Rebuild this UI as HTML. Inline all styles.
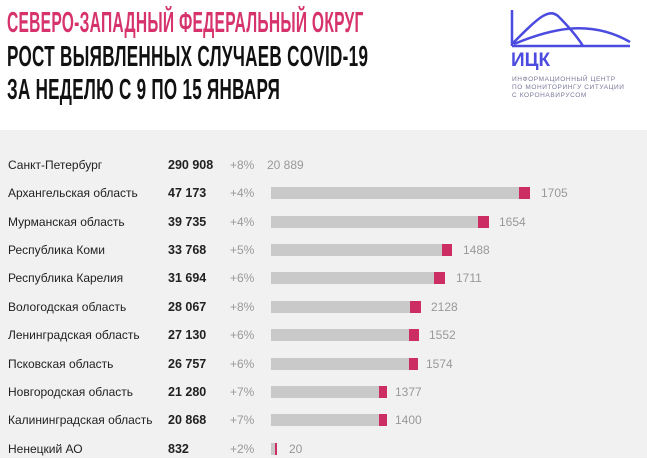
<!DOCTYPE html>
<html><head><meta charset="utf-8"><style>
body{margin:0;width:647px;height:458px;overflow:hidden;background:#fff;font-family:"Liberation Sans",sans-serif;position:relative}
.t{position:absolute;left:7px;font-weight:bold;font-size:29px;line-height:29px;white-space:nowrap;transform-origin:0 0;letter-spacing:0.5px}
.panel{position:absolute;left:0;top:130px;width:647px;height:328px;background:#f1f1f1}
.r{position:absolute;left:0;width:647px;height:20px;font-size:12px;line-height:20px;color:#222}
.r span{position:absolute;white-space:nowrap}
.n{left:8px}.v{left:168px;font-weight:bold;font-size:12.5px}.p{left:230px;color:#999}.l{color:#999}
.g{position:absolute;height:12px;top:4px;background:#c9c9c9}
.k{position:absolute;height:12px;top:4px;background:#cc2e63}
.sm{position:absolute;left:512px;font-size:6.5px;color:#7a7a9a;letter-spacing:0.6px;white-space:nowrap}
</style></head><body>
<div class="t" style="top:9px;color:#d6336c;transform:scaleX(0.537)">СЕВЕРО-ЗАПАДНЫЙ ФЕДЕРАЛЬНЫЙ ОКРУГ</div>
<div class="t" style="top:43px;color:#111;transform:scaleX(0.589)">РОСТ ВЫЯВЛЕННЫХ СЛУЧАЕВ COVID-19</div>
<div class="t" style="top:76px;color:#111;transform:scaleX(0.587)">ЗА НЕДЕЛЮ С 9 ПО 15 ЯНВАРЯ</div>
<svg style="position:absolute;left:508px;top:8px" width="125" height="42" viewBox="0 0 125 42">
<g fill="none" stroke="#4b4be0" stroke-width="2.5">
<line x1="4" y1="2" x2="4" y2="38"/>
<line x1="4" y1="38" x2="122" y2="38"/>
<path d="M4 36 C30 10,40 0,50 8 C60 18,70 30,75 38"/>
<path d="M6 36 C40 22,80 10,122 34"/>
</g></svg>
<div style="position:absolute;left:511px;top:50px;font-size:19px;font-weight:bold;color:#4b4be0;letter-spacing:0px">ИЦК</div>
<div class="sm" style="top:76px">ИНФОРМАЦИОННЫЙ ЦЕНТР</div>
<div class="sm" style="top:84px">ПО МОНИТОРИНГУ СИТУАЦИИ</div>
<div class="sm" style="top:92px">С КОРОНАВИРУСОМ</div>
<div class="panel"></div>

<div class="r" style="top:155px"><span class="n">Санкт-Петербург</span><span class="v">290 908</span><span class="p">+8%</span><span class="l" style="left:267px">20 889</span></div>
<div class="r" style="top:183px"><span class="n">Архангельская область</span><span class="v">47 173</span><span class="p">+4%</span><div class="g" style="left:271px;width:248px"></div><div class="k" style="left:519px;width:11px"></div><span class="l" style="left:541px">1705</span></div>
<div class="r" style="top:212px"><span class="n">Мурманская область</span><span class="v">39 735</span><span class="p">+4%</span><div class="g" style="left:271px;width:207px"></div><div class="k" style="left:478px;width:11px"></div><span class="l" style="left:499px">1654</span></div>
<div class="r" style="top:240px"><span class="n">Республика Коми</span><span class="v">33 768</span><span class="p">+5%</span><div class="g" style="left:271px;width:171px"></div><div class="k" style="left:442px;width:10px"></div><span class="l" style="left:463px">1488</span></div>
<div class="r" style="top:268px"><span class="n">Республика Карелия</span><span class="v">31 694</span><span class="p">+6%</span><div class="g" style="left:271px;width:163px"></div><div class="k" style="left:434px;width:11px"></div><span class="l" style="left:456px">1711</span></div>
<div class="r" style="top:297px"><span class="n">Вологодская область</span><span class="v">28 067</span><span class="p">+8%</span><div class="g" style="left:271px;width:139px"></div><div class="k" style="left:410px;width:11px"></div><span class="l" style="left:431px">2128</span></div>
<div class="r" style="top:325px"><span class="n">Ленинградская область</span><span class="v">27 130</span><span class="p">+6%</span><div class="g" style="left:271px;width:138px"></div><div class="k" style="left:409px;width:10px"></div><span class="l" style="left:429px">1552</span></div>
<div class="r" style="top:354px"><span class="n">Псковская область</span><span class="v">26 757</span><span class="p">+6%</span><div class="g" style="left:271px;width:138px"></div><div class="k" style="left:409px;width:9px"></div><span class="l" style="left:426px">1574</span></div>
<div class="r" style="top:382px"><span class="n">Новгородская область</span><span class="v">21 280</span><span class="p">+7%</span><div class="g" style="left:271px;width:108px"></div><div class="k" style="left:379px;width:8px"></div><span class="l" style="left:395px">1377</span></div>
<div class="r" style="top:410px"><span class="n">Калининградская область</span><span class="v">20 868</span><span class="p">+7%</span><div class="g" style="left:271px;width:108px"></div><div class="k" style="left:379px;width:8px"></div><span class="l" style="left:395px">1400</span></div>
<div class="r" style="top:439px"><span class="n">Ненецкий АО</span><span class="v">832</span><span class="p">+2%</span><div class="g" style="left:271px;width:4px"></div><div class="k" style="left:275px;width:2px"></div><span class="l" style="left:289px">20</span></div>
</body></html>
